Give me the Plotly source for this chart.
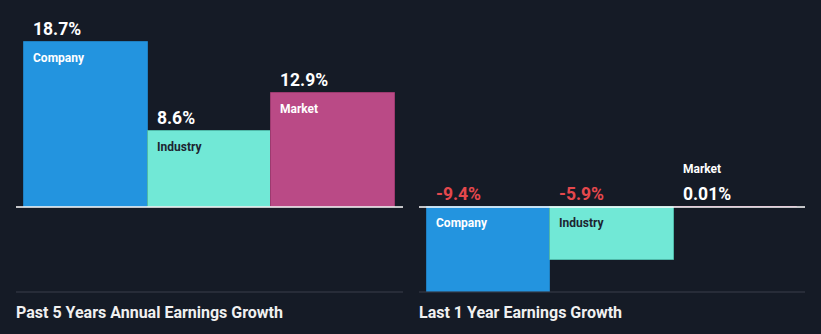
import plotly.graph_objects as go
from plotly.subplots import make_subplots

# Earnings growth comparison (%)
categories = ["Company", "Industry", "Market"]
growth_5y = [18.7, 8.6, 12.9]
growth_1y = [-9.4, -5.9, 0.01]
value_labels_5y = ["18.7%", "8.6%", "12.9%"]
value_labels_1y = ["-9.4%", "-5.9%", "0.01%"]
panel_titles = ["Past 5 Years Annual Earnings Growth", "Last 1 Year Earnings Growth"]

BG = "#151b26"
BAR_COLORS = ["#2394df", "#71e8d6", "#ba4a86"]
EDGE_COLORS = ["#1f7fc0", "#4fb8a8", "#9c3a6f"]
NAME_COLORS = ["#ffffff", "#1d2430", "#ffffff"]
POS_COLOR = "#ffffff"
NEG_COLOR = "#e5484d"
FONT = "Roboto, Arial, sans-serif"

W, H = 821, 334

fig = make_subplots(rows=1, cols=2, horizontal_spacing=0.02)

panels = [
    (growth_5y, value_labels_5y, (16, 403), [-9.64, 23.47]),
    (growth_1y, value_labels_1y, (419, 805), [-9.4, 22.9]),
]

plot_bottom_px = 292
x_pad_units = 8 / 123.7

annotations = []
shapes = []
for k, (vals, labels, (px0, px1), yr) in enumerate(panels):
    col = k + 1
    xs = list(range(len(categories)))
    fig.add_trace(
        go.Bar(
            x=xs, y=vals, width=1,
            marker=dict(color=BAR_COLORS, line=dict(color=EDGE_COLORS, width=1)),
            hoverinfo="skip", showlegend=False,
        ),
        row=1, col=col,
    )
    xa = "x" if k == 0 else "x2"
    ya = "y" if k == 0 else "y2"
    fig.update_xaxes(
        domain=[px0 / W, px1 / W],
        range=[-0.5 - x_pad_units, len(categories) - 0.5 + x_pad_units],
        visible=False, row=1, col=col,
    )
    fig.update_yaxes(
        domain=[1 - plot_bottom_px / H, 1.0],
        range=yr, visible=False, row=1, col=col,
    )
    # zero baseline
    shapes.append(dict(type="line", xref=f"{xa} domain", yref=ya, x0=0, x1=1, y0=0, y1=0,
                       line=dict(color="#ffffff", width=1.5), layer="above"))
    # bottom separator
    shapes.append(dict(type="line", xref=f"{xa} domain", yref=f"{ya} domain", x0=0, x1=1, y0=0, y1=0,
                       line=dict(color="#3a3f4a", width=1)))
    for i, (cat, v, lab) in enumerate(zip(categories, vals, labels)):
        top = max(v, 0)
        vcol = NEG_COLOR if v < 0 else POS_COLOR
        # value label sits just above the bar top (or above the baseline for negatives)
        annotations.append(dict(
            x=i - 0.5, y=top, xref=xa, yref=ya, xanchor="left", yanchor="bottom",
            xshift=7, yshift=1, text=f"<b>{lab}</b>", showarrow=False,
            font=dict(family=FONT, size=17.5, color=vcol),
        ))
        if abs(v) < 0.5:
            # bar too thin to hold its name: put it above the value
            annotations.append(dict(
                x=i - 0.5, y=top, xref=xa, yref=ya, xanchor="left", yanchor="bottom",
                xshift=7, yshift=29, text=f"<b>{cat}</b>", showarrow=False,
                font=dict(family=FONT, size=12, color="#ffffff"),
            ))
        else:
            # name inside the bar, near its top edge
            annotations.append(dict(
                x=i - 0.5, y=top, xref=xa, yref=ya, xanchor="left", yanchor="top",
                xshift=7, yshift=-7, text=f"<b>{cat}</b>", showarrow=False,
                font=dict(family=FONT, size=12, color=NAME_COLORS[i]),
            ))
    annotations.append(dict(
        x=px0 / W, y=1 - 312 / H, xref="paper", yref="paper", xanchor="left", yanchor="middle",
        xshift=-2, text=f"<b>{panel_titles[k]}</b>", showarrow=False,
        font=dict(family=FONT, size=16, color="#f0f0f0"),
    ))

fig.update_layout(
    width=W, height=H,
    margin=dict(l=0, r=0, t=0, b=0),
    paper_bgcolor=BG, plot_bgcolor=BG,
    bargap=0, showlegend=False,
    annotations=annotations, shapes=shapes,
)

fig.write_html("out.html", config={"displayModeBar": False})
